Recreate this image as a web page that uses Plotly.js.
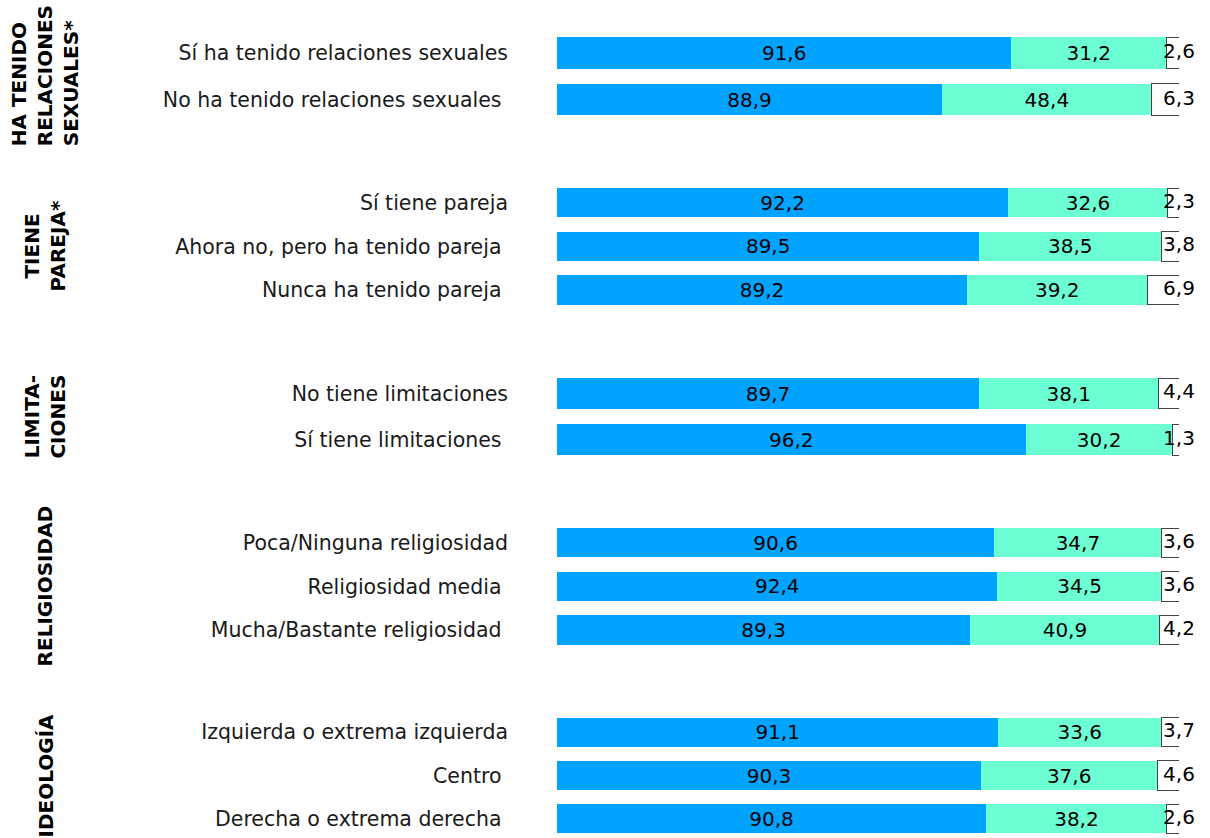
<!DOCTYPE html>
<html>
<head>
<meta charset="utf-8">
<script src="https://cdn.plot.ly/plotly-3.0.1.min.js"></script>
<style>
  html, body { margin: 0; padding: 0; overflow: hidden; background: #fff; }
  #chart { width: 1210px; height: 850px; }
</style>
</head>
<body>
<div id="chart"></div>
<script>
// ---- DATA ----
const groupTitles = [
  'HA TENIDO<br>RELACIONES<br>SEXUALES*',
  'TIENE<br>PAREJA*',
  'LIMITA-<br>CIONES',
  'RELIGIOSIDAD',
  'IDEOLOGÍA'
];

const categories = [
  ['Sí ha tenido relaciones sexuales', 'No ha tenido relaciones sexuales\u00A0'],
  ['Sí tiene pareja', 'Ahora no, pero ha tenido pareja\u00A0', 'Nunca ha tenido pareja\u00A0'],
  ['No tiene limitaciones', 'Sí tiene limitaciones\u00A0'],
  ['Poca/Ninguna religiosidad', 'Religiosidad media\u00A0', 'Mucha/Bastante religiosidad\u00A0'],
  ['Izquierda o extrema izquierda', 'Centro\u00A0', 'Derecha o extrema derecha\u00A0']
];

const blueValues = [
  [91.6, 88.9],
  [92.2, 89.5, 89.2],
  [89.7, 96.2],
  [90.6, 92.4, 89.3],
  [91.1, 90.3, 90.8]
];

const aquaValues = [
  [31.2, 48.4],
  [32.6, 38.5, 39.2],
  [38.1, 30.2],
  [34.7, 34.5, 40.9],
  [33.6, 37.6, 38.2]
];

const whiteValues = [
  [2.6, 6.3],
  [2.3, 3.8, 6.9],
  [4.4, 1.3],
  [3.6, 3.6, 4.2],
  [3.7, 4.6, 2.6]
];

// ---- STYLE / LAYOUT ----
const FIG_H = 850;
const FONT = '"DejaVu Sans", "Open Sans", sans-serif';
const BLUE = '#00A3FF';
const AQUA = '#6CFFD3';
// subplot vertical extents in pixels (top, bottom)
const bandsPx = [[29.75, 122.75], [181, 311.8], [370.4, 462.8], [521, 651.8], [710.5, 840.5]];

const fmt = v => v.toFixed(1).replace('.', ',');

const traces = [];
const layout = {
  width: 1210,
  height: FIG_H,
  margin: {l: 557, r: 31, t: 0, b: 0},
  paper_bgcolor: '#ffffff',
  plot_bgcolor: '#ffffff',
  barmode: 'stack',
  barnorm: 'percent',
  bargap: 0.33,
  showlegend: false,
  font: {family: FONT, color: '#000000'},
  xaxis: {range: [0, 100], visible: false, fixedrange: true},
  annotations: []
};

groupTitles.forEach((title, g) => {
  const yName = g === 0 ? 'y' : 'y' + (g + 1);
  const yKey = g === 0 ? 'yaxis' : 'yaxis' + (g + 1);
  const [top, bot] = bandsPx[g];
  layout[yKey] = {
    domain: [1 - bot / FIG_H, 1 - top / FIG_H],
    anchor: 'x',
    type: 'category',
    autorange: 'reversed',
    showgrid: false,
    showline: false,
    zeroline: false,
    ticks: '',
    ticklabelstandoff: 48,
    tickfont: {family: FONT, size: 20.5, color: '#1a1a1a'},
    fixedrange: true
  };
  const cats = categories[g];
  const common = {type: 'bar', orientation: 'h', xaxis: 'x', yaxis: yName, y: cats,
    textposition: 'inside', insidetextanchor: 'middle', constraintext: 'none',
    textangle: 0, hoverinfo: 'skip',
    textfont: {family: FONT, size: 20, color: '#000000'}};
  traces.push(Object.assign({}, common, {
    x: blueValues[g], text: blueValues[g].map(fmt),
    marker: {color: BLUE, line: {width: 0}}
  }));
  traces.push(Object.assign({}, common, {
    x: aquaValues[g], text: aquaValues[g].map(fmt),
    marker: {color: AQUA, line: {width: 0}}
  }));
  traces.push(Object.assign({}, common, {
    x: whiteValues[g], text: whiteValues[g].map(() => ''),
    marker: {color: '#ffffff', line: {width: 1, color: '#444444'}}
  }));
  // labels of the last segment, centred on the end of each (normalised) bar
  traces.push({
    type: 'scatter', mode: 'text', xaxis: 'x', yaxis: yName,
    x: whiteValues[g].map(() => 100), y: cats,
    text: whiteValues[g].map(fmt), textposition: 'middle center',
    textfont: {family: FONT, size: 20, color: '#000000'},
    cliponaxis: false, hoverinfo: 'skip'
  });
  layout.annotations.push({
    xref: 'paper', yref: 'paper',
    x: (45 - 557) / 622, y: 1 - ((top + bot) / 2) / FIG_H,
    xanchor: 'center', yanchor: 'middle',
    textangle: -90, showarrow: false,
    align: g === 0 ? 'left' : 'center',
    text: '<b>' + title + '</b>',
    font: {family: FONT, size: 20, color: '#000000'}
  });
});

Plotly.newPlot('chart', traces, layout, {displayModeBar: false, staticPlot: true});
</script>
</body>
</html>
